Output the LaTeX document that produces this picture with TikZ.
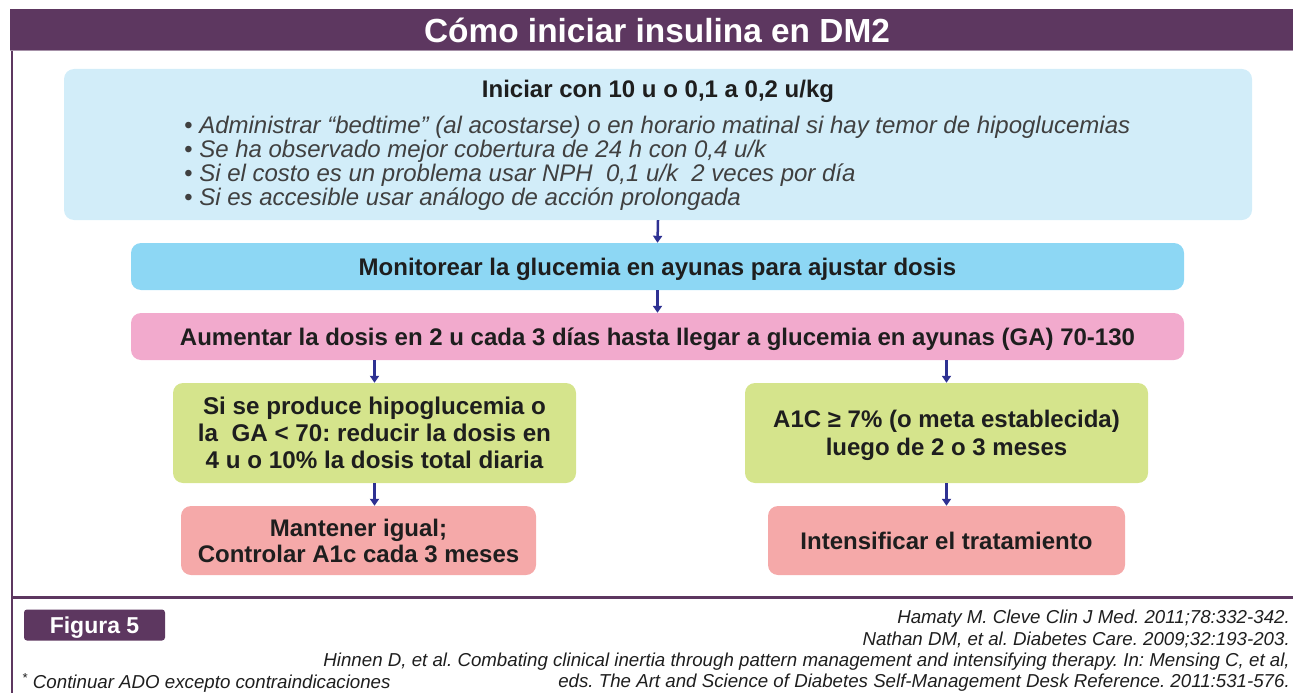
\documentclass[tikz,border=0pt]{standalone}
\usepackage{fontspec}
\setmainfont{Liberation Sans}
\usetikzlibrary{arrows.meta}
\definecolor{morado}{HTML}{5D3760}
\definecolor{celeste}{HTML}{D2EDF9}
\definecolor{azul}{HTML}{8DD7F4}
\definecolor{rosa}{HTML}{F2AACD}
\definecolor{verde}{HTML}{D5E48C}
\definecolor{salmon}{HTML}{F5A9A9}
\definecolor{flecha}{HTML}{2E3192}
\definecolor{texto}{HTML}{1E1E1E}
\begin{document}
\frenchspacing
\begin{tikzpicture}[x=1pt, y=-1pt, every node/.style={text depth=0pt}]
			\tikzset{caja/.style={rounded corners=10pt, inner sep=0pt, text=texto, font=\fontsize{24}{27}\selectfont\bfseries, align=center},
			flechita/.style={draw=flecha, line width=2.5pt, -{Triangle[length=7pt, width=9pt]}}}
\useasboundingbox (0,0) rectangle (1293,693);

% marco
\fill[morado] (10,9) rectangle (1293,51);
\draw[morado!55, line width=1pt] (10,50.5) -- (1293,50.5);
\draw[morado, line width=2.5pt] (12,51) -- (12,693);
\draw[morado, line width=3pt] (12,597) -- (1293,597);
\node[text=white, font=\fontsize{33.4}{36}\selectfont\bfseries] at (657, 30) (titulo) {Cómo iniciar insulina en DM2};

% cajas
\node[caja, fill=celeste, minimum width=1188pt, minimum height=151pt] at (658, 144.5) (inicio) {};
\node[caja, fill=azul, minimum width=1053pt, minimum height=47pt] at (657.5, 266.5) (monitor) {Monitorear la glucemia en ayunas para ajustar dosis};
\node[caja, fill=rosa, minimum width=1053pt, minimum height=47pt] at (657.5, 336.5) (aumentar) {Aumentar la dosis en 2 u cada 3 días hasta llegar a glucemia en ayunas (GA) 70-130};
\node[caja, fill=verde, minimum width=403pt, minimum height=100pt, font=\fontsize{24.2}{27}\selectfont\bfseries] at (374.5, 433) (hipo) {Si se produce hipoglucemia o\\la\ \ GA < 70: reducir la dosis en\\4 u o 10\% la dosis total diaria};
\node[caja, fill=verde, minimum width=403pt, minimum height=100pt, font=\fontsize{24}{28}\selectfont\bfseries] at (946.5, 433) (meta) {A1C ≥ 7\% (o meta establecida)\\luego de 2 o 3 meses};
\node[caja, fill=salmon, minimum width=355pt, minimum height=69pt, font=\fontsize{24}{26}\selectfont\bfseries] at (358.5, 540.5) (mantener) {Mantener igual;\\Controlar A1c cada 3 meses};
\node[caja, fill=salmon, minimum width=357pt, minimum height=69pt] at (946.5, 540.5) (intensificar) {Intensificar el tratamiento};

% texto de la primera caja
\node[text=texto, font=\fontsize{24}{27}\selectfont\bfseries] at (658, 89) (dosis) {Iniciar con 10 u o 0,1 a 0,2 u/kg};
\node[text=texto!85, anchor=west, align=left, inner sep=0pt, font=\fontsize{24}{24}\selectfont\itshape] at (184, 161) (lista) {• Administrar “bedtime” (al acostarse) o en horario matinal si hay temor de hipoglucemias\\• Se ha observado mejor cobertura de 24 h con 0,4 u/k\\• Si el costo es un problema usar NPH\ \ 0,1 u/k\ \ 2 veces por día\\• Si es accesible usar análogo de acción prolongada};

% flechas
\draw[flechita] (inicio.south) -- (monitor.north);
\draw[flechita] (monitor.south) -- (aumentar.north);
\draw[flechita] (aumentar.south -| hipo.north) -- (hipo.north);
\draw[flechita] (aumentar.south -| meta.north) -- (meta.north);
\draw[flechita] (hipo.south) -- (hipo.south |- mantener.north);
\draw[flechita] (meta.south) -- (intensificar.north);

% pie
\node[fill=morado, rounded corners=3pt, text=white, font=\fontsize{23}{24}\selectfont\bfseries, minimum width=141pt, minimum height=31pt, inner sep=0pt] at (94.5, 625) (figura) {Figura 5};
\node[anchor=east, align=right, inner sep=0pt, text=texto, font=\fontsize{18.7}{21.3}\selectfont\itshape] at (1290, 649) (refs) {Hamaty M. Cleve Clin J Med. 2011;78:332-342.\\Nathan DM, et al. Diabetes Care. 2009;32:193-203.\\Hinnen D, et al. Combating clinical inertia through pattern management and intensifying therapy. In: Mensing C, et al,\\eds. The Art and Science of Diabetes Self-Management Desk Reference. 2011:531-576.};
\node[anchor=west, inner sep=0pt, text=texto, font=\fontsize{18.7}{20}\selectfont\itshape] at (22, 681) (nota) {\textsuperscript{*} Continuar ADO excepto contraindicaciones};
		\end{tikzpicture}
\end{document}
